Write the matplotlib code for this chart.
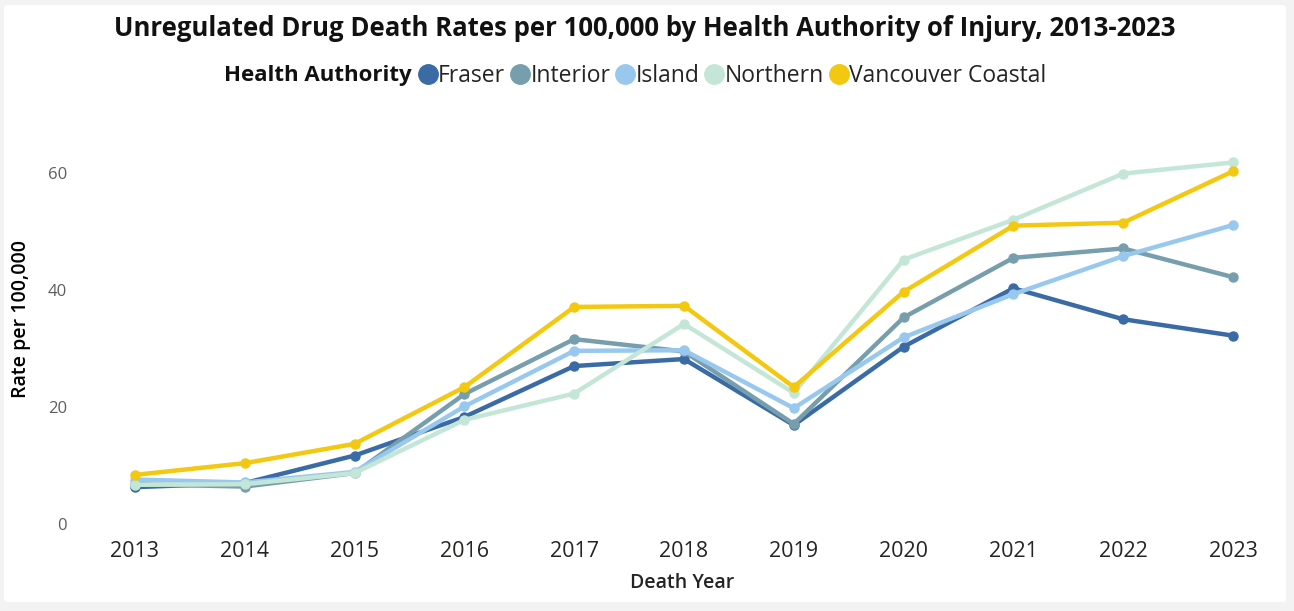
import matplotlib.pyplot as plt
from matplotlib.lines import Line2D
from matplotlib.patches import FancyBboxPatch

years = [2013, 2014, 2015, 2016, 2017, 2018, 2019, 2020, 2021, 2022, 2023]
fraser = [6.3, 7.0, 11.7, 18.3, 27.0, 28.2, 16.9, 30.3, 40.3, 35.0, 32.2]
interior = [6.8, 6.4, 8.7, 22.2, 31.6, 29.5, 17.1, 35.3, 45.5, 47.1, 42.2]
island = [7.6, 7.1, 8.9, 20.1, 29.6, 29.7, 19.8, 31.9, 39.3, 45.8, 51.1]
northern = [6.7, 6.8, 8.7, 17.8, 22.3, 34.2, 22.4, 45.2, 52.0, 59.9, 61.8]
vancouver = [8.4, 10.4, 13.7, 23.4, 37.1, 37.3, 23.4, 39.7, 51.0, 51.5, 60.3]

names = ['Fraser', 'Interior', 'Island', 'Northern', 'Vancouver Coastal']
series = [fraser, interior, island, northern, vancouver]
colors = ['#3a6ba5', '#779eac', '#99c8ef', '#c4e6d7', '#f2c811']

plt.rcParams['font.family'] = ['Open Sans', 'DejaVu Sans']

W, H = 1294, 611
fig = plt.figure(figsize=(W / 100, H / 100), dpi=100)
fig.patch.set_facecolor('#f3f3f3')
panel = FancyBboxPatch((4 / W, 9 / H), 1282 / W, 597 / H,
                       boxstyle='round,pad=0,rounding_size=0.004',
                       transform=fig.transFigure, facecolor='white',
                       edgecolor='none', zorder=-10)
fig.patches.append(panel)

ax = fig.add_axes([95 / W, (H - 524) / H, 1175 / W, 409.5 / H])
ax.set_facecolor('none')

for name, vals, c in zip(names, series, colors):
    ax.plot(years, vals, color=c, lw=3.2, marker='o', ms=6.5,
            solid_joinstyle='round', solid_capstyle='round', label=name,
            clip_on=False)

ax.set_xlim(2012.636, 2023.337)
ax.set_ylim(0, 70)
ax.set_yticks([0, 20, 40, 60])
ax.set_xticks(years)
for s in ax.spines.values():
    s.set_visible(False)
ax.tick_params(axis='both', length=0)
ax.tick_params(axis='x', labelsize=15.5, labelcolor='#252423', pad=12)
ax.tick_params(axis='y', labelsize=12, labelcolor='#605e5c', pad=20)

ax.set_xlabel('Death Year', fontsize=14, fontweight='semibold',
              color='#252423', labelpad=8)
ax.set_ylabel('Rate per 100,000', fontsize=14, fontweight='semibold',
              color='#000000')
ax.yaxis.set_label_coords(-64 / 1175, 0.5)

fig.text(645 / W, 1 - 28 / H, 'Unregulated Drug Death Rates per 100,000 by Health Authority of Injury, 2013-2023',
         ha='center', va='center', fontsize=18.5, fontweight='bold', color='#111111')

ht = fig.text(224 / W, 1 - 76 / H, 'Health Authority', ha='left', va='center',
              fontsize=16, fontweight='bold', color='#111111')
fig.canvas.draw()
bb = ht.get_window_extent()
handles = [Line2D([], [], ls='none', marker='o', ms=14, color=c) for c in colors]
fig.legend(handles, names, loc='center left',
           bbox_to_anchor=((bb.x1 + 8) / W, 1 - 76 / H), ncol=5, frameon=False,
           fontsize=16.5, handlelength=0.7, handletextpad=0.1, columnspacing=0.3,
           borderpad=0, borderaxespad=0, labelcolor='#252423')

fig.savefig('out.png', dpi=100, facecolor=fig.get_facecolor())
